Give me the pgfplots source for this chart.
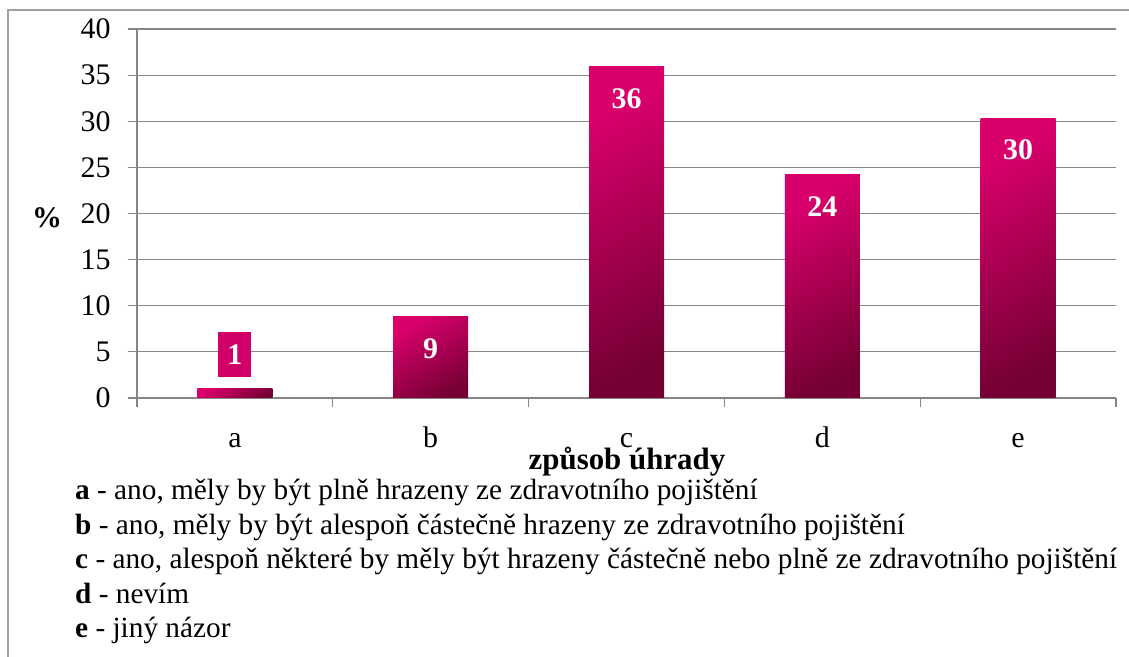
\documentclass[border=0pt]{standalone}
\usepackage{pgfplots}
\pgfplotsset{compat=1.18}
\usepackage{fontspec}
\setmainfont{Liberation Serif}
\definecolor{gridgray}{RGB}{134,134,134}
\definecolor{barTop}{RGB}{218,0,108}
\definecolor{barBot}{RGB}{118,0,52}
\definecolor{labfill}{RGB}{208,0,104}
\definecolor{framegray}{RGB}{160,160,160}
\pgfplotsset{mybar/.style={ybar, bar width=75bp, bar shift=0pt, draw=none,
  top color=barTop, bottom color=barBot, shading angle=30}}

\begin{document}
\begin{tikzpicture}
\begin{axis}[
  name=ax,
  scale only axis, width=979bp, height=369bp,
  xmin=-0.5, xmax=4.5, ymin=0, ymax=40,
  axis x line=bottom, axis y line=left,
  axis line style={gridgray, line width=1.2bp, -},
  ytick={0,5,...,40},
  ymajorgrids, grid style={gridgray, line width=1.2bp},
  xtick={0,1,2,3,4}, xticklabels={a,b,c,d,e},
  minor xtick={-0.5,0.5,1.5,2.5,3.5,4.5},
  major x tick style={draw=none},
  tick align=outside,
  major tick length=9bp, minor tick length=9bp,
  tick style={gridgray, line width=1.2bp},
  /pgf/number format/assume math mode=true,
  yticklabel style={font=\fontsize{30}{34}\selectfont, text=black, xshift=-14bp},
  xticklabel style={font=\fontsize{30}{34}\selectfont, text=black, text height=21bp, text depth=7bp, yshift=-16bp},
  clip=false,
]
\addplot[mybar] coordinates {(0,1)};
\addplot[mybar] coordinates {(1,8.8)};
\addplot[mybar] coordinates {(2,35.9)};
\addplot[mybar] coordinates {(3,24.2)};
\addplot[mybar] coordinates {(4,30.35)};
\addplot[draw=none,
  nodes near coords, point meta=explicit symbolic,
  every node near coord/.append style={anchor=center, yshift=-32bp,
    text=white, font=\bfseries\fontsize{30}{30}\selectfont}]
  coordinates {(1,8.8)[9] (2,35.9)[36] (3,24.2)[24] (4,30.35)[30]};
\addplot[draw=none,
  nodes near coords, point meta=explicit symbolic,
  every node near coord/.append style={anchor=center, yshift=34bp,
    text=white, fill=labfill, inner sep=0pt, minimum width=33bp, minimum height=45bp,
    font=\bfseries\fontsize{30}{30}\selectfont}]
  coordinates {(0,1)[1]};
\end{axis}
\begin{scope}[shift={(ax.south west)}, x=1bp, y=1bp, shift={(-137,-259)}]
\pgfresetboundingbox
\useasboundingbox (0,0) rectangle (1129,657);
\draw[framegray, line width=1.2bp] (8,0) -- (8,647) -- (1129,647);
\node[font=\bfseries\fontsize{30}{34}\selectfont] at (47,439) {\%};
\node[anchor=base, font=\bfseries\fontsize{31}{34}\selectfont] at (627,187) {způsob úhrady};
\begin{scope}[every node/.style={anchor=base west, inner sep=0pt, font=\fontsize{29.4}{34}\selectfont}]
\node at (75,157) {\textbf{a} - ano, měly by být plně hrazeny ze zdravotního pojištění};
\node at (75,122.5) {\textbf{b} - ano, měly by být alespoň částečně hrazeny ze zdravotního pojištění};
\node at (75,88) {\textbf{c} - ano, alespoň některé by měly být hrazeny částečně nebo plně ze zdravotního pojištění};
\node at (75,53.5) {\textbf{d} - nevím};
\node at (75,19) {\textbf{e} - jiný názor};
\end{scope}
\end{scope}
\end{tikzpicture}
\end{document}
